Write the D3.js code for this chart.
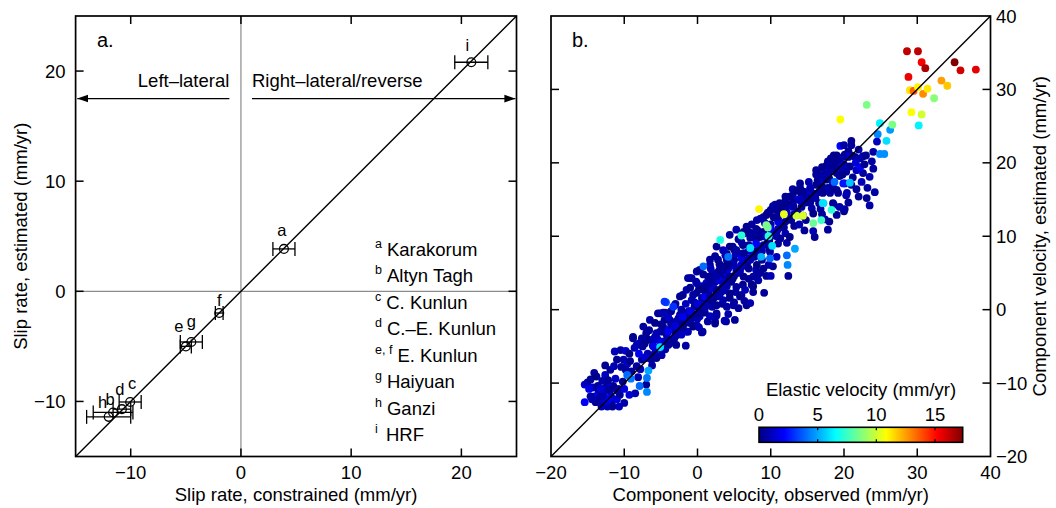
<!DOCTYPE html>
<html><head><meta charset="utf-8">
<script src="https://cdn.jsdelivr.net/npm/d3@7"></script>
<style>
body{margin:0;background:#fff}
svg{display:block}
text{font-family:"Liberation Sans",Arial,Helvetica,sans-serif;fill:#000}
</style>
</head><body>
<svg id="chart" width="1056" height="508"></svg>
<script>
// ---------------- DATA ----------------
// Panel a: slip rates
const slipKeys = ["a","b","c","d","e","f","g","h","i"];
const slipConstrained = [3.9,-11.6,-10.05,-10.8,-5.0,-1.97,-4.5,-12.0,20.9];
const slipEstimated   = [3.85,-11.0,-10.05,-10.7,-5.0,-1.97,-4.6,-11.4,20.8];
const slipError       = [1.0,1.8,1.0,0.8,0.5,0.35,1.0,2.0,1.5];
const legendKeys  = ["a","b","c","d","e, f","g","h","i"];
const legendNames = ["Karakorum","Altyn Tagh","C. Kunlun","C.\u2013E. Kunlun","E. Kunlun","Haiyuan","Ganzi","HRF"];
const ticksA = [-10,0,10,20];
const ticksB = [-10,0,10,20,30];
const ticksBLabels = [-20,-10,0,10,20,30,40];
const colorbarTicks = [0,5,10,15];
const colorbarMax = 17.36;

// Panel b: component velocities [observed, estimated, elastic]
const velSouthWest = [
[-15.4,-12.6,2.0],[-15.4,-10.2,1.2],[-15.0,-9.9,0.8],[-14.6,-9.5,0.3],[-14.1,-8.6,0.5],[-13.8,-9.1,0.2],
[-14.3,-10.6,1.0],[-13.5,-11.2,0.6],[-14.0,-11.8,1.5],[-13.4,-12.2,0.4],[-12.9,-12.7,1.2],[-12.3,-13.2,0.8],
[-11.7,-12.8,0.3],[-11.0,-12.2,1.6],[-10.6,-11.6,0.5],[-10.8,-10.8,0.9],[-11.5,-10.4,0.2],[-12.3,-10.1,1.3],
[-13.0,-9.7,0.7],[-12.6,-8.9,1.1],[-11.9,-8.2,0.4],[-11.4,-7.7,0.9],[-11.0,-6.8,0.3],[-11.3,-5.7,1.0],
[-10.5,-5.5,0.6],[-9.8,-5.6,1.4],[-9.3,-6.0,0.2],[-10.1,-6.8,0.8],[-9.6,-7.4,1.2],[-9.0,-8.4,0.4],
[-8.1,-9.2,0.7],[-7.8,-8.1,1.0],[-7.6,-6.8,0.3],[-7.2,-6.5,1.1],[-8.3,-7.7,0.5],[-7.0,-10.2,0.3],
[-8.5,-11.4,0.8],[-9.3,-11.6,1.4],[-10.0,-12.7,0.6],[-10.7,-13.2,1.0],[-11.6,-13.2,0.4],[-12.4,-12.5,1.6],
[-13.1,-13.2,0.9],[-14.6,-11.8,0.5],[-12.0,-11.0,0.3],[-12.8,-11.5,0.9],[-13.6,-10.4,0.4],[-11.2,-9.4,1.2],
[-10.2,-9.8,0.2],[-10.0,-10.8,1.6],[-9.8,-8.2,0.5],[-11.8,-11.8,1.1],[-12.6,-10.7,0.6],[-14.8,-10.8,1.8],
[-13.9,-12.6,0.3],[-12.1,-12.1,2.0],[-13.0,-11.8,0.7],[-12.2,-9.6,0.4],[-11.0,-11.0,0.6],[-13.2,-10.8,1.4],
[-14.4,-12.2,0.8],[-10.4,-7.8,0.5],[-9.2,-7.0,0.3],[-8.6,-5.2,0.8],[-12.6,-7.6,0.3],[-8.0,-4.6,0.5]
];
const velCentral = [
[-6.1,-4.9,0.4],[-5.8,-5.9,1.0],[-6.3,-6.8,0.3],[-4.9,-6.2,0.8],[-5.4,-4.1,1.2],[-4.5,-4.3,0.2],
[-3.8,-4.6,0.9],[-2.9,-4.8,0.4],[-1.6,-4.9,0.6],[-3.1,-3.7,1.3],[-4.2,-3.4,0.3],[-5.1,-3.0,0.7],
[-5.8,-3.7,1.1],[-6.7,-4.1,0.2],[-7.6,-3.9,0.6],[-8.8,-3.9,0.4],[-8.3,-4.8,1.0],[-7.2,-4.6,0.3],
[-4.7,-2.3,0.5],[-3.8,-2.7,1.4],[-2.4,-2.5,0.2],[-1.3,-3.0,0.8],[-1.7,-1.8,0.4],[-2.9,-1.6,1.0],
[-3.8,-1.4,0.3],[-2.4,-0.7,0.6],[-1.5,-0.5,1.2],[-0.8,-1.2,0.3],[-0.1,-2.1,0.9],[0.7,-3.0,0.5],
[-0.6,-2.3,0.2],[0.3,-0.9,1.1],[-5.1,-0.5,0.2],[-4.4,-0.4,0.5],[-2.4,1.8,0.4],[-1.5,2.7,0.8],
[-1.0,4.3,0.3],[-0.1,5.2,0.6],[1.7,6.1,0.5],[2.6,5.0,1.0],[3.5,5.9,0.3],[4.0,4.5,0.8],
[1.5,4.1,0.2],[0.6,3.2,1.3],[-0.1,2.3,0.4],[-0.8,1.3,0.9],[-0.4,0.4,0.3],[0.8,0.9,1.0],
[1.7,1.3,0.5],[2.6,2.3,0.2],[3.3,2.9,1.2],[4.0,0.4,0.6],[3.9,-1.6,0.3],[2.4,-1.6,0.8],
[2.6,-0.5,0.4],[1.7,-0.9,1.1],[0.7,0.0,0.2],[1.2,2.5,0.7],[2.1,3.4,0.3],[3.7,3.6,0.9],
[2.6,4.3,0.5],[-2.2,0.0,0.6],[-5.6,-3.2,0.8],[-5.4,-0.5,0.4],[-4.7,-0.4,0.9],[-3.1,0.6,0.3],
[-1.3,4.3,0.5],[5.1,-1.4,0.4],[3.7,-1.5,0.8],[2.4,-1.9,0.3],[0.6,-3.1,0.6],[-1.5,-3.0,1.0],
[-4.5,-1.4,0.2],[-7.4,-2.3,0.5],[-8.8,-3.7,0.3],[-6.5,-1.4,0.6],
[-7.5,-5.0,0.4],[-6.8,-6.0,0.9],[-7.0,-3.2,0.3],[-6.2,-7.6,0.6],[-6.0,-4.0,1.0],[-5.6,-6.6,0.3],
[-6.6,-2.8,0.5],[-5.2,-5.2,1.4],[-5.0,-2.0,0.4],[-4.4,-5.4,0.8],[-5.8,-1.8,0.2],[-4.0,-4.0,1.0],
[-4.6,-3.0,0.3],[-3.6,-2.0,0.6],[-3.2,-4.0,0.3],[-4.0,-1.0,1.2],[-3.0,-3.0,0.5],[-3.6,-0.2,0.3],
[-2.6,-1.2,0.8],[-2.0,-2.4,0.3],[-3.0,0.8,0.5],[-2.2,-3.4,1.1],[-1.8,-1.0,0.2],[-1.2,-0.2,0.7],
[-1.0,-1.8,0.3],[-2.0,2.0,0.4],[-1.6,0.8,1.0],[-0.6,-0.6,0.2],[-0.4,1.0,0.5],[0.0,-1.2,0.9],
[-1.0,3.0,0.3],[-0.6,2.0,0.6],[0.4,0.2,0.2],[0.2,-2.4,0.8],[0.6,1.6,0.4],[1.0,-0.4,0.3],
[-0.2,3.8,0.8],[0.2,2.8,0.2],[1.2,0.6,1.0],[1.4,-1.6,0.5],[1.6,2.6,0.3],[2.0,0.4,0.7],
[0.8,4.8,0.4],[1.2,3.6,1.2],[2.2,1.6,0.2],[2.6,-0.8,0.6],[2.4,3.8,0.5],[2.8,1.8,0.2],
[1.8,5.6,0.9],[2.2,4.6,0.3],[3.2,2.4,0.6],[3.4,0.8,0.4],[3.2,4.6,0.3],[3.6,2.6,0.8],
[2.8,6.8,0.4],[3.0,5.4,0.2],[4.0,3.2,1.0],[4.4,1.6,0.3],[4.2,5.6,0.6],[4.6,3.8,0.3],
[3.8,7.4,0.9],[4.0,6.8,0.4],[5.0,4.6,0.2],[5.2,2.4,0.7],[5.0,6.8,0.2],[5.6,5.0,0.5],
[4.8,8.6,0.3],[5.2,7.6,1.0],[6.0,5.8,0.4],[6.2,3.4,0.3],[6.0,7.6,0.8],[6.6,6.2,0.3],
[5.6,9.6,0.5],[6.2,8.8,0.2],[7.0,7.0,0.6],[7.0,4.2,0.4],[7.0,8.8,0.3],[7.6,7.4,0.7],
[6.4,10.4,0.2],[7.2,9.8,0.5],[8.0,8.0,0.3],[8.0,5.4,0.9],[8.0,9.6,0.4],[8.6,8.4,0.2],
[7.4,11.6,0.6],[8.2,10.8,0.3],[9.0,8.8,1.0],[8.8,6.8,0.4],[9.0,10.6,0.2],[9.6,9.2,0.6],
[8.6,12.4,0.3],[9.2,11.8,0.8],[10.0,10.0,0.4],[9.8,8.2,0.3],[10.0,11.6,0.5],[10.6,10.4,0.3],
[9.6,13.2,0.7],[10.4,12.6,0.2],[11.0,11.0,0.9],[11.0,9.0,0.4],[11.0,12.4,0.3],[11.6,11.4,0.6],
[10.8,13.6,0.4],[11.4,13.4,0.2],[12.0,12.0,0.5],[12.0,10.4,0.8],[12.0,13.6,0.4],[12.6,12.4,0.2],
[12.0,14.8,0.7],[12.6,14.2,0.3],[13.2,13.0,0.5],[13.2,11.4,0.3],[13.0,14.6,0.2],[13.6,13.4,0.6],
[13.0,15.6,0.4],[13.8,15.0,0.9],[14.2,14.0,0.3],[14.4,12.8,0.5],[14.2,15.6,0.3],[14.8,14.6,0.7],
[14.0,16.6,0.2],[15.0,16.0,0.5],[15.4,15.0,0.4],[15.6,13.8,0.8],[15.4,16.6,0.5],[16.0,15.8,0.3],
[15.2,17.4,0.8],[16.2,17.0,0.2],[16.6,16.0,0.6],[16.4,17.6,0.3],[17.0,16.8,0.9],[16.2,18.4,0.4],
[17.4,18.2,0.2],[17.8,16.6,0.5],[17.4,18.6,0.6],[18.0,17.8,0.3],[17.6,19.6,0.4],[18.4,19.2,0.8],
[18.4,19.8,0.2],[19.0,18.6,0.5],[18.2,20.6,0.3],[19.4,20.4,0.4],[20.0,19.8,0.9],[19.0,21.0,0.3],
[21.0,21.0,0.5],[20.6,21.6,0.2],
[2.0,3.0,1.6],[3.0,4.0,1.8],[4.0,5.0,1.5],[5.0,6.0,2.0],[6.0,7.0,1.7],[7.0,8.0,1.4],
[8.0,9.0,1.9],[9.0,10.0,1.6],[10.0,11.0,2.1],[11.0,12.0,1.5],[12.0,13.0,1.8],[13.0,14.0,1.4],
[14.0,15.0,2.0],[15.0,16.0,1.6],[2.8,2.4,0.3],[3.8,3.4,0.6],[4.8,4.2,0.2],[5.8,5.2,0.9],
[6.8,6.4,0.4],[7.8,7.2,0.3],[8.8,8.0,0.7],[9.8,9.4,0.2],[10.8,10.0,0.6],[11.8,11.2,0.4],
[12.8,12.2,0.3],[13.8,13.0,0.8],[1.0,3.2,0.4],[2.0,4.8,0.7],[3.0,6.2,0.3],[4.0,7.6,0.5],
[5.0,8.2,0.2],[6.0,9.2,0.6],[7.0,10.6,0.4],[8.0,11.0,0.3],[9.0,12.6,0.7],[10.0,13.6,0.2],
[11.0,14.0,0.5],[12.0,15.4,0.3],[13.0,16.4,0.6],[14.0,17.2,0.4],
[0.0,0.8,1.5],[1.0,1.8,2.0],[-1.0,-0.2,1.7],[-2.0,-1.0,1.9],[-3.0,-2.2,1.5],[-4.0,-3.0,2.0],
[-5.0,-4.4,1.6],[-6.0,-5.0,1.8],[-7.0,-6.6,1.4],[-8.0,-6.0,1.9],[0.0,-0.6,0.3],[1.0,0.2,0.6],
[2.0,1.2,0.2],[3.0,2.0,0.8],[-1.0,-1.4,0.5],[-2.0,-2.0,0.3],[-3.0,-3.6,0.7],[-4.0,-4.8,0.4],
[-5.0,-5.2,0.2],[-6.0,-6.2,0.6],[5.0,1.0,0.4],[6.0,2.0,0.3],[4.2,-0.6,0.7],[6.4,1.2,0.5],
[7.6,3.2,0.3],[8.6,5.0,0.6],[5.6,0.2,0.4]
];
const velNorthEast = [
[20.1,21.1,0.3],[20.6,20.8,0.8],[19.0,20.3,0.4],[16.3,18.9,0.2],[19.7,19.5,1.0],[20.3,18.8,0.5],
[19.4,18.2,0.3],[20.1,17.2,0.6],[18.4,16.8,0.2],[17.6,16.2,0.9],[19.2,15.9,0.4],[20.3,15.6,0.7],
[17.1,15.9,0.3],[17.2,17.8,1.2],[16.5,17.0,0.4],[15.4,16.5,0.8],[14.4,16.1,0.3],[15.0,15.3,0.5],
[13.6,16.2,0.2],[14.0,14.9,1.0],[12.6,15.4,0.4],[11.9,14.5,0.3],[13.1,14.1,0.6],[11.5,14.0,0.2],
[10.6,14.3,0.8],[9.9,13.4,0.4],[10.9,12.7,0.3],[12.2,13.2,1.1],[19.0,12.9,0.4],[20.0,13.4,0.2],
[18.6,14.3,0.6],[17.8,10.9,0.5],[16.0,9.9,0.3],[15.8,10.7,0.8],[12.4,4.6,0.4],[9.4,4.6,0.3],
[10.0,4.6,0.9],[8.3,4.9,0.5],[7.4,3.4,0.2],[8.3,4.0,0.7],[9.1,2.3,0.4],[6.7,0.6,0.3],
[7.2,0.9,0.8],[-0.8,4.3,0.6],[2.4,7.3,0.4],[4.9,6.3,0.8],[6.7,11.3,0.3],[8.1,12.2,0.6],
[9.4,12.9,0.2],[10.3,14.1,0.5],[11.2,14.5,0.3],[4.4,10.2,0.4],[5.3,10.9,0.7],[6.3,10.6,0.2],
[7.6,10.4,0.5],[8.5,9.9,0.3],[10.8,10.6,0.9],[11.3,9.7,0.4],[12.2,9.1,0.6],[12.6,9.9,0.2],
[9.9,7.9,0.5],[10.8,7.2,1.0],[10.3,5.9,0.3],[9.7,6.1,0.7],[9.0,5.6,0.4],[8.1,6.1,0.2],
[7.2,6.8,0.8],[6.3,7.7,0.3],[5.3,8.1,0.6],[4.4,8.6,0.2],[3.5,8.1,0.9],[2.6,8.6,0.4],
[1.7,6.8,0.5],[0.3,5.4,0.3],[-0.1,3.6,0.7],[0.8,2.7,0.2],[1.7,1.8,0.6],[2.6,2.7,0.3],
[3.5,3.6,1.0],[4.4,4.5,0.4],[5.3,5.4,0.8],[6.3,4.5,0.3],[5.3,3.1,0.5],[4.4,2.2,0.2],
[3.5,1.3,0.7],[2.6,0.6,0.4],[5.8,1.8,0.3],[6.5,2.7,0.9],[7.6,2.4,0.4],[4.9,0.6,0.6],
[7.6,4.5,0.5],[7.0,5.6,0.3],[6.0,6.1,1.1],[3.5,5.4,0.4],[2.6,4.5,0.7],[1.5,4.5,0.3],
[1.7,3.6,0.5],[4.2,6.1,0.2],[15.4,14.6,0.4],[16.1,15.2,0.7],[16.6,14.5,0.3],[16.8,13.7,0.5],
[15.8,13.1,0.2],[17.4,12.3,0.6],[14.8,12.2,0.3],[13.9,11.6,0.8],[14.6,10.8,0.4],
[19.5,22.3,2.2],[24.5,22.9,1.0],[24.0,21.5,0.6],[22.6,20.9,0.3],[22.2,20.6,0.8],[21.5,20.8,0.4],
[20.4,20.9,1.2],[19.9,20.8,0.5],[18.8,19.5,0.3],[19.5,19.0,0.9],[20.8,19.5,0.4],[21.7,19.0,1.0],
[22.6,18.6,0.5],[23.5,18.1,0.8],[22.2,19.4,2.0],[17.6,17.7,0.4],[18.5,17.2,0.7],[16.9,16.8,0.3],
[19.9,17.2,2.5],[18.1,15.9,0.5],[19.0,16.3,0.3],[20.4,15.9,0.9],[21.7,16.4,0.4],[23.1,15.2,0.3],
[23.5,14.2,0.7],[18.5,14.5,0.4],[20.1,13.7,0.5],
[21.0,22.4,0.4],[22.0,21.8,0.8],[23.0,21.0,0.3],[23.8,20.2,0.6],[22.8,19.8,0.2],[24.0,19.2,0.5],
[21.2,18.0,0.3],[22.4,17.4,0.9],[21.0,17.0,0.4],[19.8,18.4,0.2],[18.0,18.8,0.6],[17.0,19.4,0.3],
[16.6,18.4,0.5],[21.6,20.0,1.4],[23.2,16.6,0.5],[22.0,15.4,0.3],[24.2,16.0,0.6],[20.6,14.6,0.4],
[19.4,14.0,0.8],[18.0,12.0,0.3],[17.0,13.0,0.5],[21.0,23.0,0.3],[20.0,22.4,0.6],[18.6,21.0,0.2],
[17.8,20.2,0.5],[16.2,19.0,0.4],[18.5,20.4,0.3]
];
const velHighElastic = [
[-9.6,-8.9,4.0],[-9.1,-9.4,4.3],[-6.7,-8.3,5.0],[-6.9,-9.3,4.2],[-7.9,-10.4,4.0],[-6.9,-11.2,4.5],
[-5.1,-5.1,6.0],[-4.3,1.0,3.5],[-3.3,0.4,3.0],[-4.5,1.1,3.0],[0.8,5.9,4.0],[4.2,7.2,4.2],
[18.7,17.4,4.0],[20.8,17.3,5.5],[17.2,14.5,5.8],
[17.1,14.5,6.0],[18.3,13.6,7.2],[16.9,12.2,7.5],[15.8,11.8,8.3],[13.5,12.8,10.0],[14.4,12.8,10.2],
[11.8,13.0,10.5],[8.4,13.7,11.0],[9.4,11.5,8.6],[9.6,11.2,8.5],[3.1,9.5,7.0],[6.0,10.1,7.3],
[7.2,8.4,6.0],[10.2,8.7,6.0],[9.7,10.0,7.2],[13.3,8.3,5.0],[12.2,7.4,4.0],[12.3,6.1,4.5],
[8.7,7.2,5.2],[9.9,7.0,4.0],
[24.9,21.2,4.6],[25.5,21.2,4.6],[24.6,23.9,4.5],[26.3,24.5,4.8],[25.8,23.0,6.0],[24.9,25.4,6.3],
[26.6,25.2,8.6],[30.2,25.1,6.3],[23.1,27.9,8.6],[19.5,25.9,10.8],[29.2,26.9,10.8],[30.6,26.6,10.1],
[32.3,28.8,8.8],[29.0,29.9,11.3],[29.5,29.8,13.5],[30.1,30.3,11.0],[30.8,29.4,12.8],[31.4,30.1,11.2],
[33.3,31.2,12.5],[34.1,30.5,11.8],[28.8,31.7,15.5],[30.6,33.7,15.3],[31.1,32.9,16.6],[28.6,35.2,16.3],
[30.1,35.2,16.3],[35.1,33.7,17.4],[35.9,32.6,16.0],[38.0,32.7,15.6]
];

// ---------------- DRAWING ----------------
const svg = d3.select("#chart");
const FS = 18.5;

function jet(v){
  const t = Math.max(0, Math.min(1, v / colorbarMax));
  const f = x => Math.max(0, Math.min(1, x));
  return d3.rgb(255*f(1.5-Math.abs(4*t-3)), 255*f(1.5-Math.abs(4*t-2)), 255*f(1.5-Math.abs(4*t-1))).formatHex();
}
const fmt = d => (d < 0 ? "\u2212" + Math.abs(d) : String(d));

// ===== Panel a =====
const xA = d3.scaleLinear().domain([-15,25]).range([75.6,516.5]);
const yA = d3.scaleLinear().domain([-15,25]).range([456.5,16]);
const gA = svg.append("g");

gA.append("line").attr("x1",xA(0)).attr("x2",xA(0)).attr("y1",yA(-15)).attr("y2",yA(25))
  .attr("stroke","#8c8c8c").attr("stroke-width",1.2);
gA.append("line").attr("x1",xA(-15)).attr("x2",xA(25)).attr("y1",yA(0)).attr("y2",yA(0))
  .attr("stroke","#8c8c8c").attr("stroke-width",1.2);
gA.append("line").attr("x1",xA(-15)).attr("y1",yA(-15)).attr("x2",xA(25)).attr("y2",yA(25))
  .attr("stroke","#000").attr("stroke-width",1.4);

const defs = svg.append("defs");
defs.append("marker").attr("id","ah").attr("viewBox","0 0 10 10").attr("refX",10).attr("refY",5)
  .attr("markerWidth",11).attr("markerHeight",11).attr("markerUnits","userSpaceOnUse").attr("orient","auto")
  .append("path").attr("d","M0,1.5 L10,5 L0,8.5 Z").attr("fill","#000");
const arrowY = yA(17.5);
gA.append("line").attr("x1",xA(-1.05)).attr("x2",xA(-14.85)).attr("y1",arrowY).attr("y2",arrowY)
  .attr("stroke","#000").attr("stroke-width",1.4).attr("marker-end","url(#ah)");
gA.append("line").attr("x1",xA(1.0)).attr("x2",xA(24.9)).attr("y1",arrowY).attr("y2",arrowY)
  .attr("stroke","#000").attr("stroke-width",1.4).attr("marker-end","url(#ah)");
gA.append("text").attr("x",xA(-1.05)).attr("y",arrowY-12).attr("text-anchor","end")
  .attr("font-size",FS).text("Left\u2013lateral");
gA.append("text").attr("x",xA(1.0)).attr("y",arrowY-12).attr("text-anchor","start")
  .attr("font-size",FS).text("Right\u2013lateral/reverse");

const labelOffset = {a:[-2,-13],b:[-3,-7.5],c:[2,-13],d:[-2,-14],e:[-7,-14.5],f:[0,-7],g:[0,-15],h:[-6,-8.5],i:[-4,-11]};
slipKeys.forEach((k,i)=>{
  const cx = xA(slipConstrained[i]), cy = yA(slipEstimated[i]);
  const x0 = xA(slipConstrained[i]-slipError[i]), x1 = xA(slipConstrained[i]+slipError[i]);
  const g = gA.append("g").attr("stroke","#000").attr("stroke-width",1.3).attr("fill","none");
  g.append("line").attr("x1",x0).attr("x2",x1).attr("y1",cy).attr("y2",cy);
  g.append("line").attr("x1",x0).attr("x2",x0).attr("y1",cy-7).attr("y2",cy+7);
  g.append("line").attr("x1",x1).attr("x2",x1).attr("y1",cy-7).attr("y2",cy+7);
  g.append("circle").attr("cx",cx).attr("cy",cy).attr("r",4.4);
  gA.append("text").attr("x",cx+labelOffset[k][0]).attr("y",cy+labelOffset[k][1])
    .attr("text-anchor","middle").attr("font-size",16.5).text(k);
});

legendKeys.forEach((k,i)=>{
  const base = 256 + 26.45*i;
  const kt = gA.append("text").attr("x",375).attr("y",base-8).attr("font-size",12.5).text(k);
  const kw = kt.node().getComputedTextLength();
  gA.append("text").attr("x",Math.max(386, 375+kw+5)).attr("y",base).attr("font-size",FS).text(legendNames[i]);
});

gA.append("text").attr("x",97).attr("y",47).attr("font-size",20).text("a.");

function drawFrame(g, x, y, xt, yt, tl){
  const [xl,xr] = x.range(), [yb,yt0] = y.range();
  g.append("rect").attr("x",xl).attr("y",yt0).attr("width",xr-xl).attr("height",yb-yt0)
    .attr("fill","none").attr("stroke","#000").attr("stroke-width",1.7);
  const tg = g.append("g").attr("stroke","#000").attr("stroke-width",1.5);
  xt.forEach(v=>{
    tg.append("line").attr("x1",x(v)).attr("x2",x(v)).attr("y1",yb).attr("y2",yb-tl);
    tg.append("line").attr("x1",x(v)).attr("x2",x(v)).attr("y1",yt0).attr("y2",yt0+tl);
  });
  yt.forEach(v=>{
    tg.append("line").attr("x1",xl).attr("x2",xl+tl).attr("y1",y(v)).attr("y2",y(v));
    tg.append("line").attr("x1",xr).attr("x2",xr-tl).attr("y1",y(v)).attr("y2",y(v));
  });
}
drawFrame(gA, xA, yA, ticksA, ticksA, 8);
ticksA.forEach(v=>{
  gA.append("text").attr("x",xA(v)).attr("y",479).attr("text-anchor","middle").attr("font-size",FS).text(fmt(v));
  gA.append("text").attr("x",65.5).attr("y",yA(v)+6.5).attr("text-anchor","end").attr("font-size",FS).text(fmt(v));
});
gA.append("text").attr("x",(xA(-15)+xA(25))/2).attr("y",501).attr("text-anchor","middle")
  .attr("font-size",FS).text("Slip rate, constrained (mm/yr)");
gA.append("text").attr("transform",`translate(27,${(yA(-15)+yA(25))/2}) rotate(-90)`)
  .attr("text-anchor","middle").attr("font-size",FS).text("Slip rate, estimated (mm/yr)");

// ===== Panel b =====
const xB = d3.scaleLinear().domain([-20,40]).range([551,990.5]);
const yB = d3.scaleLinear().domain([-20,40]).range([456.5,16]);
const gB = svg.append("g");

const allVel = [...velSouthWest, ...velCentral, ...velNorthEast, ...velHighElastic];
gB.append("g").selectAll("circle").data(allVel).join("circle")
  .attr("cx",d=>xB(d[0])).attr("cy",d=>yB(d[1])).attr("r",3.9)
  .attr("fill",d=>jet(d[2]));

gB.append("line").attr("x1",xB(-20)).attr("y1",yB(-20)).attr("x2",xB(40)).attr("y2",yB(40))
  .attr("stroke","#000").attr("stroke-width",1.4);

drawFrame(gB, xB, yB, ticksB, ticksB, 8);
ticksBLabels.forEach(v=>{
  gB.append("text").attr("x",xB(v)).attr("y",479).attr("text-anchor","middle").attr("font-size",FS).text(fmt(v));
  gB.append("text").attr("x",996).attr("y",yB(v)+6.5).attr("text-anchor","start").attr("font-size",FS).text(fmt(v));
});
gB.append("text").attr("x",(xB(-20)+xB(40))/2).attr("y",501).attr("text-anchor","middle")
  .attr("font-size",FS).text("Component velocity, observed (mm/yr)");
gB.append("text").attr("transform",`translate(1046,${(yB(-20)+yB(40))/2}) rotate(-90)`)
  .attr("text-anchor","middle").attr("font-size",FS).text("Component velocity, estimated (mm/yr)");
gB.append("text").attr("x",572).attr("y",47).attr("font-size",20).text("b.");

const cbX = d3.scaleLinear().domain([0,colorbarMax]).range([759,962.7]);
const grad = defs.append("linearGradient").attr("id","jetgrad").attr("x1","0%").attr("x2","100%");
d3.range(0,65).forEach(i=>{
  grad.append("stop").attr("offset",(i/64*100)+"%").attr("stop-color",jet(i/64*colorbarMax));
});
const cbTop = 427.3, cbBot = 442.3;
gB.append("rect").attr("x",cbX(0)).attr("y",cbTop).attr("width",cbX(colorbarMax)-cbX(0)).attr("height",cbBot-cbTop)
  .attr("fill","url(#jetgrad)").attr("stroke","#000").attr("stroke-width",1.6);
colorbarTicks.forEach(v=>{
  if (v>0){
    gB.append("line").attr("x1",cbX(v)).attr("x2",cbX(v)).attr("y1",cbTop).attr("y2",cbTop+3).attr("stroke","#000").attr("stroke-width",1.2);
    gB.append("line").attr("x1",cbX(v)).attr("x2",cbX(v)).attr("y1",cbBot).attr("y2",cbBot-3).attr("stroke","#000").attr("stroke-width",1.2);
  }
  gB.append("text").attr("x",cbX(v)).attr("y",421).attr("text-anchor","middle").attr("font-size",FS).text(v);
});
gB.append("text").attr("x",861).attr("y",396).attr("text-anchor","middle").attr("font-size",FS).text("Elastic velocity (mm/yr)");
</script>
</body></html>
